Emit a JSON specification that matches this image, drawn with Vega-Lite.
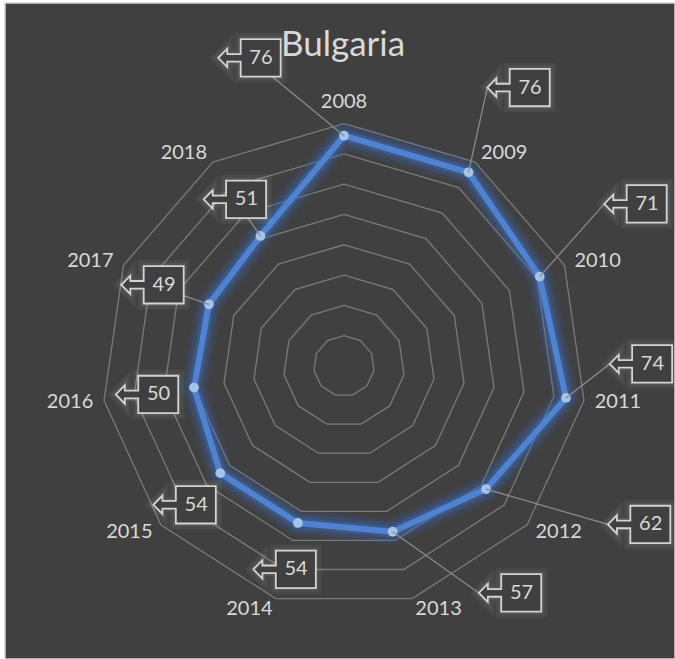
{
  "$schema": "https://vega.github.io/schema/vega-lite/v6.json",
  "width": 670,
  "height": 656,
  "autosize": {"type": "none"},
  "padding": {"left": 5, "top": 3, "right": 0, "bottom": 0},
  "background": "#ffffff",
  "config": {"view": {"fill": "#404040", "stroke": "#d4d4d4", "strokeWidth": 1.5}, "font": "Lato"},
  "title": {"text": "Bulgaria", "anchor": "middle", "frame": "group", "orient": "top", "offset": -88, "baseline": "alphabetic", "fontSize": 35, "font": "Lato", "fontWeight": "normal", "color": "#d9d9d9", "dx": 3},
  "datasets": {
    "scores": [
      {"year": "2008", "value": 76},
      {"year": "2009", "value": 76},
      {"year": "2010", "value": 71},
      {"year": "2011", "value": 74},
      {"year": "2012", "value": 62},
      {"year": "2013", "value": 57},
      {"year": "2014", "value": 54},
      {"year": "2015", "value": 54},
      {"year": "2016", "value": 50},
      {"year": "2017", "value": 49},
      {"year": "2018", "value": 51}
    ],
    "callouts": [
      {"year": "2008", "lx": -31.2, "ly": 101.7},
      {"year": "2009", "lx": 57.6, "ly": 91.9},
      {"year": "2010", "lx": 96.2, "ly": 53.5},
      {"year": "2011", "lx": 98.0, "ly": 0.7},
      {"year": "2012", "lx": 97.4, "ly": -52.3},
      {"year": "2013", "lx": 54.8, "ly": -74.9},
      {"year": "2014", "lx": -19.6, "ly": -67.1},
      {"year": "2015", "lx": -52.6, "ly": -45.8},
      {"year": "2016", "lx": -65.0, "ly": -9.4},
      {"year": "2017", "lx": -63.2, "ly": 26.8},
      {"year": "2018", "lx": -36.0, "ly": 55.0}
    ]
  },
  "layer": [
    {
      "data": {"name": "scores"},
      "transform": [
        {"calculate": "toNumber(datum.year) - 2008", "as": "idx"},
        {"calculate": "datum.idx * 2 * PI / 11", "as": "theta"},
        {"fold": ["10", "20", "30", "40", "50", "60", "70", "80"], "as": ["ring", "unused"]},
        {"calculate": "toNumber(datum.ring)", "as": "level"},
        {"calculate": "datum.level * sin(datum.theta)", "as": "gx"},
        {"calculate": "datum.level * cos(datum.theta)", "as": "gy"}
      ],
      "mark": {"type": "line", "interpolate": "linear-closed", "color": "#7a7a7a", "strokeWidth": 1.3},
      "encoding": {
        "x": {"field": "gx", "type": "quantitative", "scale": {"domain": [-111.88, 109.24], "nice": false, "zero": false}, "axis": null},
        "y": {"field": "gy", "type": "quantitative", "scale": {"domain": [-96.70, 119.80], "nice": false, "zero": false}, "axis": null},
        "detail": {"field": "ring"},
        "order": {"field": "idx", "type": "quantitative"}
      }
    },
    {
      "data": {"name": "scores"},
      "transform": [
        {"calculate": "toNumber(datum.year) - 2008", "as": "idx"},
        {"calculate": "datum.idx * 2 * PI / 11", "as": "theta"},
        {"calculate": "datum.value * sin(datum.theta)", "as": "px"},
        {"calculate": "datum.value * cos(datum.theta)", "as": "py"}
      ],
      "encoding": {
        "x": {"field": "px", "type": "quantitative", "scale": {"domain": [-111.88, 109.24], "nice": false, "zero": false}, "axis": null},
        "y": {"field": "py", "type": "quantitative", "scale": {"domain": [-96.70, 119.80], "nice": false, "zero": false}, "axis": null},
        "order": {"field": "idx", "type": "quantitative"}
      },
      "layer": [
        {"mark": {"type": "line", "interpolate": "linear-closed", "color": "#3a6fc4", "strokeWidth": 26, "opacity": 0.12, "strokeJoin": "round"}},
        {"mark": {"type": "line", "interpolate": "linear-closed", "color": "#3a6fc4", "strokeWidth": 19, "opacity": 0.18, "strokeJoin": "round"}},
        {"mark": {"type": "line", "interpolate": "linear-closed", "color": "#3a6fc4", "strokeWidth": 12, "opacity": 0.32, "strokeJoin": "round"}},
        {"mark": {"type": "line", "interpolate": "linear-closed", "color": "#4f82d0", "strokeWidth": 6, "strokeJoin": "round"}},
        {"mark": {"type": "circle", "color": "#a6c3ea", "size": 95, "opacity": 1}}
      ]
    },
    {
      "data": {"name": "callouts"},
      "transform": [
        {"lookup": "year", "from": {"data": {"name": "scores"}, "key": "year", "fields": ["value"]}},
        {"calculate": "(toNumber(datum.year) - 2008) * 2 * PI / 11", "as": "theta"},
        {"calculate": "datum.value * sin(datum.theta)", "as": "px"},
        {"calculate": "datum.value * cos(datum.theta)", "as": "py"},
        {"calculate": "sqrt(pow(datum.lx - datum.px, 2) + pow(datum.ly - datum.py, 2))", "as": "dist"},
        {"filter": "datum.dist > 17 || datum.ly - datum.py > 10"},
        {"calculate": "datum.lx > datum.px + 5 ? datum.lx - 10.3 : datum.lx", "as": "ex"}
      ],
      "mark": {"type": "rule", "color": "#8a8a8a", "strokeWidth": 1.3},
      "encoding": {
        "x": {"field": "px", "type": "quantitative", "scale": {"domain": [-111.88, 109.24], "nice": false, "zero": false}, "axis": null},
        "y": {"field": "py", "type": "quantitative", "scale": {"domain": [-96.70, 119.80], "nice": false, "zero": false}, "axis": null},
        "x2": {"field": "ex"},
        "y2": {"field": "ly"}
      }
    },
    {
      "data": {"name": "callouts"},
      "transform": [
        {"lookup": "year", "from": {"data": {"name": "scores"}, "key": "year", "fields": ["value"]}}
      ],
      "encoding": {
        "x": {"field": "lx", "type": "quantitative", "scale": {"domain": [-111.88, 109.24], "nice": false, "zero": false}, "axis": null},
        "y": {"field": "ly", "type": "quantitative", "scale": {"domain": [-96.70, 119.80], "nice": false, "zero": false}, "axis": null}
      },
      "layer": [
        {"mark": {"type": "point", "shape": "M -0.282 -0.6 L 1 -0.6 L 1 0.6 L -0.282 0.6 L -0.282 0.122 L -0.712 0.122 L -0.712 0.295 L -1 0 L -0.712 -0.295 L -0.712 -0.122 L -0.282 -0.122 Z", "size": 3894, "filled": false, "stroke": "#ffffff", "strokeOpacity": 0.05, "strokeWidth": 12, "opacity": 1}},
        {"mark": {"type": "point", "shape": "M -0.282 -0.6 L 1 -0.6 L 1 0.6 L -0.282 0.6 L -0.282 0.122 L -0.712 0.122 L -0.712 0.295 L -1 0 L -0.712 -0.295 L -0.712 -0.122 L -0.282 -0.122 Z", "size": 3894, "filled": false, "stroke": "#ffffff", "strokeOpacity": 0.06, "strokeWidth": 6, "opacity": 1}},
        {"mark": {"type": "point", "shape": "M -0.282 -0.6 L 1 -0.6 L 1 0.6 L -0.282 0.6 L -0.282 0.122 L -0.712 0.122 L -0.712 0.295 L -1 0 L -0.712 -0.295 L -0.712 -0.122 L -0.282 -0.122 Z", "size": 3894, "filled": true, "fill": "#404040", "stroke": "#d4d4d4", "strokeWidth": 1.8, "opacity": 1, "fillOpacity": 1, "strokeOpacity": 1}},
        {"mark": {"type": "text", "dx": 11.5, "align": "center", "baseline": "middle", "fontSize": 20, "font": "Lato", "color": "#d9d9d9"}, "encoding": {"text": {"field": "value", "type": "quantitative"}}}
      ]
    },
    {
      "data": {"name": "scores"},
      "transform": [
        {"calculate": "(toNumber(datum.year) - 2008) * 2 * PI / 11", "as": "theta"},
        {"calculate": "83.6 * sin(datum.theta)", "as": "ax"},
        {"calculate": "83.6 * cos(datum.theta)", "as": "ay"},
        {"calculate": "sin(datum.theta)", "as": "s"}
      ],
      "encoding": {
        "x": {"field": "ax", "type": "quantitative", "scale": {"domain": [-111.88, 109.24], "nice": false, "zero": false}, "axis": null},
        "y": {"field": "ay", "type": "quantitative", "scale": {"domain": [-96.70, 119.80], "nice": false, "zero": false}, "axis": null},
        "text": {"field": "year", "type": "nominal"}
      },
      "layer": [
        {"transform": [{"filter": "datum.s > 0.01"}], "mark": {"type": "text", "align": "left", "baseline": "middle", "fontSize": 20, "font": "Lato", "color": "#d9d9d9"}},
        {"transform": [{"filter": "datum.s < -0.01"}], "mark": {"type": "text", "align": "right", "baseline": "middle", "fontSize": 20, "font": "Lato", "color": "#d9d9d9"}},
        {"transform": [{"filter": "abs(datum.s) <= 0.01"}], "mark": {"type": "text", "align": "center", "baseline": "alphabetic", "dy": -5, "fontSize": 20, "font": "Lato", "color": "#d9d9d9"}}
      ]
    }
  ]
}
